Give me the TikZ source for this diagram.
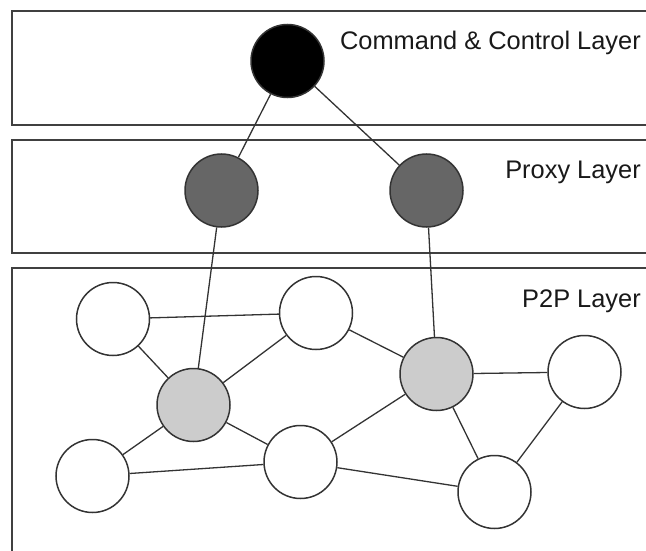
\documentclass[tikz,border=0pt]{standalone}
\usepackage{fontspec}
\setmainfont{Liberation Sans}
\usepackage{tikz}

\begin{document}
\begin{tikzpicture}[x=1pt, y=-1pt,
    layer/.style={line width=1.8pt, draw=black!75},
    peer/.style={draw=black!80, circle, line width=1.5pt, fill=white, inner sep=0pt, minimum size=73pt},
    link/.style={line width=1.3pt, draw=black!80},
    lbl/.style={anchor=base east, inner sep=0pt, font=\fontsize{25.4}{30}\selectfont, text=black!90}]
      \clip (0,0) rectangle (646,551);

      \draw[layer] (12,11) rectangle (670,125);
      \draw[layer] (12,140) rectangle (670,253);
      \draw[layer] (12,268) rectangle (670,600);

      \node[lbl] (cclabel) at (641,50) {Command \& Control Layer};
      \node[lbl] (proxylabel) at (641,178) {Proxy Layer};
      \node[lbl] (ptplabel) at (641,307) {P2P Layer};

      \node[peer, fill=black] (cc) at (287.5,61) {};
      \node[peer, fill=black!60] (px1) at (221.5,190.5) {};
      \node[peer, fill=black!60] (px2) at (426.5,190.5) {};

      \node[peer] (pa) at (113,319) {};
      \node[peer] (pb) at (316,313) {};
      \node[peer, fill=black!20] (g1) at (193.5,405) {};
      \node[peer, fill=black!20] (g2) at (436.5,374) {};
      \node[peer] (pc) at (584.5,372) {};
      \node[peer] (pd) at (92.5,476) {};
      \node[peer] (pe) at (300.5,462) {};
      \node[peer] (pf) at (494.5,492) {};

      \draw[link] (cc) -- (px1);
      \draw[link] (cc) -- (px2);
      \draw[link] (px1) -- (g1);
      \draw[link] (px2) -- (g2);

      \draw[link] (pa) -- (pb);
      \draw[link] (pa) -- (g1);
      \draw[link] (g1) -- (pb);
      \draw[link] (g1) -- (pd);
      \draw[link] (g1) -- (pe);
      \draw[link] (pb) -- (g2);
      \draw[link] (pe) -- (g2);
      \draw[link] (g2) -- (pc);
      \draw[link] (g2) -- (pf);
      \draw[link] (pc) -- (pf);
      \draw[link] (pd) -- (pe);
      \draw[link] (pe) -- (pf);
    \end{tikzpicture}
\end{document}
